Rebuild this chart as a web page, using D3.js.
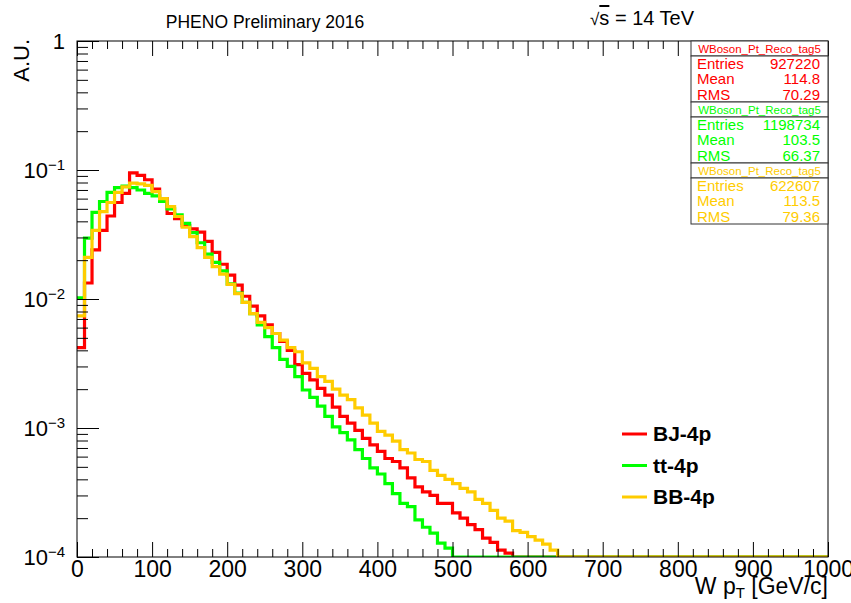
<!DOCTYPE html>
<html lang="en">
<head>
<meta charset="utf-8">
<title>W pT</title>
<style type="text/css">
	body { margin: 0; background: white; }
	svg { display: block; font-family: "Liberation Sans", Arial, Helvetica, sans-serif; }
	.axis path, .axis line { fill: none; stroke: black; stroke-width: 1px; }
	.axis text { font-size: 23px; fill: black; }
	.ylab text { font-size: 22px; fill: black; }
	path.hist { fill: none; stroke-width: 3.2px; }
	.stats text { font-size: 15px; }
	.stats .ttl { font-size: 11.5px; }
	.legend text { font-size: 21px; font-weight: bold; }
</style>
</head>
<body>
<script type="text/javascript" src="https://cdnjs.cloudflare.com/ajax/libs/d3/7.8.5/d3.min.js"></script>
<script type="text/javascript">

	// bins of 10 GeV starting at 0 (values after the listed ones are empty)
	var binWidth = 10;
	var redBJ = [0.0042, 0.0133, 0.024, 0.034, 0.044, 0.056, 0.066, 0.095, 0.091, 0.084,
		0.071, 0.060, 0.046, 0.042, 0.037, 0.035, 0.033, 0.028, 0.023, 0.0186,
		0.0153, 0.0128, 0.0105, 0.0088, 0.0074, 0.0063, 0.0054, 0.0047, 0.0040, 0.0031,
		0.00265, 0.00236, 0.00203, 0.0018, 0.00145, 0.00123, 0.00109, 0.00096, 0.00083, 0.00074,
		0.00066, 0.00058, 0.00055, 0.00049, 0.00041, 0.00035, 0.00032, 0.0003, 0.00026, 0.00026,
		0.00022, 0.0002, 0.000178, 0.000163, 0.00014, 0.00013, 0.000113, 0.000107];
	var greenTT = [0.0102, 0.0296, 0.047, 0.057, 0.067, 0.073, 0.075, 0.073, 0.070, 0.066,
		0.063, 0.057, 0.050, 0.045, 0.0386, 0.0327, 0.0273, 0.0223, 0.0192, 0.0165,
		0.0131, 0.0111, 0.0094, 0.0077, 0.0063, 0.0051, 0.0042, 0.0034, 0.0030, 0.0025,
		0.00197, 0.00173, 0.00148, 0.00123, 0.00102, 0.00092, 0.00081, 0.00068, 0.00058, 0.00049,
		0.00044, 0.00037, 0.00031, 0.00026, 0.000246, 0.000194, 0.00017, 0.000153, 0.000128, 0.000117];
	var orangeBB = [0.0074, 0.021, 0.034, 0.0475, 0.056, 0.067, 0.074, 0.079, 0.078, 0.076,
		0.068, 0.060, 0.052, 0.0436, 0.036, 0.0304, 0.025, 0.021, 0.0178, 0.0156,
		0.013, 0.011, 0.0094, 0.0077, 0.0066, 0.0060, 0.0054, 0.0048, 0.0042, 0.0039,
		0.0032, 0.0029, 0.0025, 0.0023, 0.0020, 0.0018, 0.00166, 0.00143, 0.00126, 0.00109,
		0.00094, 0.00088, 0.00079, 0.00068, 0.00064, 0.00057, 0.00055, 0.00047, 0.00043, 0.00040,
		0.00037, 0.00034, 0.00032, 0.00028, 0.00026, 0.00023, 0.0002, 0.00019, 0.00016, 0.000155,
		0.000144, 0.000135, 0.000126, 0.000113];

	var seriesNames = ["BJ-4p", "tt-4p", "BB-4p"];
	var seriesColors = ["#ff0000", "#00ff00", "#ffcc00"];
	var statEntries = ["927220", "1198734", "622607"];
	var statMean = ["114.8", "103.5", "113.5"];
	var statRMS = ["70.29", "66.37", "79.36"];
	var histName = "WBoson_Pt_Reco_tag5";

	var xTicks = [0, 100, 200, 300, 400, 500, 600, 700, 800, 900, 1000];
	var yTicks = [1e-4, 1e-3, 1e-2, 1e-1, 1];
	var yLabels = [["10", "\u22124"], ["10", "\u22123"], ["10", "\u22122"], ["10", "\u22121"], ["1", ""]];

	var fullwidth = 851, fullheight = 603;
	var margin = { top: 41, right: 23, bottom: 46, left: 77 };
	var width = fullwidth - margin.left - margin.right;
	var height = fullheight - margin.top - margin.bottom;

	var xScale = d3.scaleLinear().domain([0, 1000]).range([0, width]);
	var yMin = 1e-4;
	var yScale = d3.scaleLog().domain([yMin, 1]).range([height, 0]);

	var svg = d3.select("body").append("svg")
		.attr("width", fullwidth)
		.attr("height", fullheight);

	var g = svg.append("g")
		.attr("transform", "translate(" + margin.left + "," + margin.top + ")");

	g.append("clipPath").attr("id", "clip")
		.append("rect").attr("x", 0).attr("y", -2).attr("width", width).attr("height", height + 2);

	// histograms
	var line = d3.line()
		.x(function(d) { return xScale(d[0]); })
		.y(function(d) { return yScale(Math.max(d[1], yMin)); })
		.curve(d3.curveStepAfter);

	function toPoints(vals) {
		var pts = [];
		var nBins = 1000 / binWidth;
		for (var i = 0; i < nBins; i++) {
			pts.push([i * binWidth, i < vals.length ? vals[i] : 0]);
		}
		pts.push([1000, pts[pts.length - 1][1]]);
		return pts;
	}

	var allSeries = [redBJ, greenTT, orangeBB];
	g.append("g").attr("clip-path", "url(#clip)")
		.selectAll("path")
		.data(allSeries)
		.enter()
		.append("path")
		.attr("class", "hist")
		.attr("stroke", function(d, i) { return seriesColors[i]; })
		.attr("d", function(d) { return line(toPoints(d)); });

	// frame
	g.append("rect")
		.attr("width", width).attr("height", height)
		.attr("fill", "none").attr("stroke", "black").attr("stroke-width", 1);

	// x axis (bottom + top), ticks inside
	var xMinor = d3.range(0, 1001, 20).filter(function(v) { return v % 100 != 0; });

	var xAxis = g.append("g").attr("class", "x axis")
		.attr("transform", "translate(0," + height + ")")
		.call(d3.axisBottom(xScale).tickValues(xTicks).tickSizeInner(-15).tickSizeOuter(0).tickPadding(4).tickFormat(d3.format("d")));
	xAxis.select(".domain").remove();
	xAxis.selectAll("text").attr("dy", "0.71em");

	g.append("g").attr("class", "axis")
		.attr("transform", "translate(0," + height + ")")
		.call(d3.axisBottom(xScale).tickValues(xMinor).tickSizeInner(-8).tickSizeOuter(0).tickFormat(""))
		.select(".domain").remove();

	g.append("g").attr("class", "axis")
		.call(d3.axisTop(xScale).tickValues(xTicks).tickSizeInner(-15).tickSizeOuter(0).tickFormat(""))
		.select(".domain").remove();
	g.append("g").attr("class", "axis")
		.call(d3.axisTop(xScale).tickValues(xMinor).tickSizeInner(-8).tickSizeOuter(0).tickFormat(""))
		.select(".domain").remove();

	// y axis, log
	var yMinorTicks = [];
	[1e-4, 1e-3, 1e-2, 1e-1].forEach(function(dec) {
		for (var k = 2; k <= 9; k++) yMinorTicks.push(dec * k);
	});

	g.append("g").attr("class", "axis")
		.call(d3.axisLeft(yScale).tickValues(yTicks).tickSizeInner(-22).tickSizeOuter(0).tickFormat(""))
		.select(".domain").remove();
	g.append("g").attr("class", "axis")
		.call(d3.axisLeft(yScale).tickValues(yMinorTicks).tickSizeInner(-11).tickSizeOuter(0).tickFormat(""))
		.select(".domain").remove();

	var yLab = g.append("g").attr("class", "ylab")
		.selectAll("text")
		.data(yTicks)
		.enter()
		.append("text")
		.attr("x", -12)
		.attr("y", function(d) { return yScale(d); })
		.attr("dy", "0.35em")
		.attr("text-anchor", "end");
	yLab.append("tspan").text(function(d, i) { return yLabels[i][0]; });
	yLab.append("tspan")
		.attr("dy", "-0.5em")
		.style("font-size", "15px")
		.text(function(d, i) { return yLabels[i][1]; });

	// axis titles
	svg.append("text")
		.attr("transform", "translate(29," + (margin.top - 2) + ") rotate(-90)")
		.attr("text-anchor", "end")
		.style("font-size", "22px")
		.text("A.U.");

	var xt = svg.append("text")
		.attr("x", margin.left + width)
		.attr("y", 594)
		.attr("text-anchor", "end")
		.style("font-size", "23px");
	xt.append("tspan").text("W p");
	xt.append("tspan").attr("dy", "4").style("font-size", "15px").text("T");
	xt.append("tspan").attr("dy", "-4").text(" [GeV/c]");

	// header
	svg.append("text")
		.attr("x", 265).attr("y", 28)
		.attr("text-anchor", "middle")
		.style("font-size", "17.5px")
		.text("PHENO Preliminary 2016");

	var sq = svg.append("text")
		.attr("x", 590).attr("y", 25)
		.style("font-size", "20px");
	sq.append("tspan").style("font-size", "17px").text("\u221A");
	sq.append("tspan").attr("text-decoration", "overline").text("s");
	sq.append("tspan").text(" = 14 TeV");

	// stats boxes
	var boxX = 691, boxW = 137, boxTop = 41;
	var titleH = 15, bodyH = 46;
	var stats = svg.append("g").attr("class", "stats");
	seriesNames.forEach(function(name, i) {
		var y0 = boxTop + i * (titleH + bodyH);
		var c = seriesColors[i];
		var sg = stats.append("g").attr("transform", "translate(" + boxX + "," + y0 + ")");
		sg.append("rect").attr("width", boxW).attr("height", titleH)
			.attr("fill", "white").attr("stroke", "#333").attr("stroke-width", 1);
		sg.append("rect").attr("y", titleH).attr("width", boxW).attr("height", bodyH)
			.attr("fill", "white").attr("stroke", "#333").attr("stroke-width", 1);
		sg.append("text").attr("class", "ttl")
			.attr("x", boxW / 2).attr("y", titleH / 2).attr("dy", "0.35em")
			.attr("text-anchor", "middle").attr("fill", c).text(histName);
		var rows = [["Entries", statEntries[i]], ["Mean", statMean[i]], ["RMS", statRMS[i]]];
		rows.forEach(function(r, j) {
			var ry = titleH + 7.5 + j * 15.5;
			sg.append("text").attr("x", 6).attr("y", ry).attr("dy", "0.35em")
				.attr("fill", c).text(r[0]);
			sg.append("text").attr("x", boxW - 8).attr("y", ry).attr("dy", "0.35em")
				.attr("text-anchor", "end").attr("fill", c).text(r[1]);
		});
	});

	// legend
	var legend = svg.append("g").attr("class", "legend")
		.attr("transform", "translate(622,434)");
	var li = legend.selectAll("g")
		.data(seriesNames)
		.enter()
		.append("g")
		.attr("transform", function(d, i) { return "translate(0," + (i * 31.5) + ")"; });
	li.append("line")
		.attr("x1", 0).attr("x2", 25)
		.attr("stroke", function(d, i) { return seriesColors[i]; })
		.attr("stroke-width", 3);
	li.append("text")
		.attr("x", 31).attr("dy", "0.35em")
		.text(function(d) { return d; });

</script>
</body>
</html>
